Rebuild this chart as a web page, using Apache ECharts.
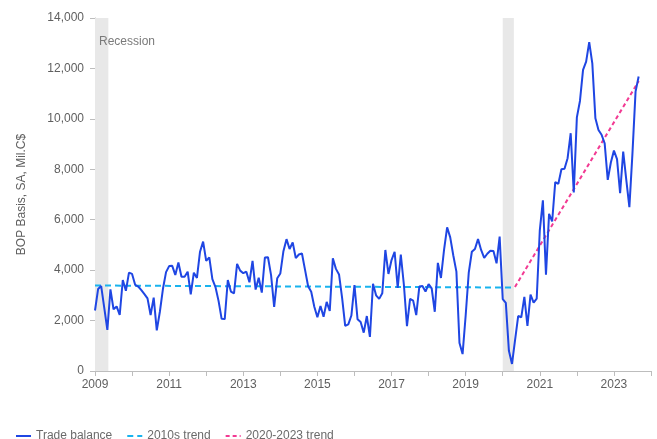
<!DOCTYPE html>
<html>
<head>
<meta charset="utf-8">
<script src="https://cdn.jsdelivr.net/npm/echarts@6/dist/echarts.min.js"></script>
<style>
  html, body { margin: 0; padding: 0; background: #fff; }
  #main { width: 657px; height: 439px; }
</style>
</head>
<body>
<div id="main"></div>
<script>
// monthly trade balance, Mil.C$, starting Jan 2009
var startYear = 2009;
var tb2009 = [2400, 3250, 3370, 2500, 1630, 3240, 2450, 2560, 2220, 3610, 3180, 3900];
var tb2010 = [3850, 3420, 3350, 3210, 3050, 2880, 2220, 2910, 1610, 2350, 3260, 3920];
var tb2011 = [4160, 4170, 3810, 4300, 3740, 3740, 3940, 3040, 3900, 3690, 4730, 5130];
var tb2012 = [4370, 4510, 3640, 3330, 2780, 2070, 2060, 3610, 3150, 3080, 4250, 3980];
var tb2013 = [3880, 3940, 3520, 4370, 3230, 3700, 3110, 4500, 4510, 3800, 2540, 3680];
var tb2014 = [3870, 4750, 5230, 4840, 5100, 4480, 4620, 4660, 4010, 3360, 3140, 2550];
var tb2015 = [2130, 2580, 2150, 2740, 2380, 4470, 4050, 3830, 2900, 1790, 1850, 2200];
var tb2016 = [3410, 2050, 1940, 1520, 2180, 1350, 3460, 3000, 2860, 3080, 4800, 3850];
var tb2017 = [4400, 4730, 3300, 4620, 3420, 1780, 2860, 2790, 2220, 3350, 3370, 3150];
var tb2018 = [3450, 3280, 2350, 4290, 3690, 4800, 5700, 5300, 4580, 3940, 1110, 670];
var tb2019 = [2200, 3900, 4730, 4840, 5230, 4800, 4490, 4650, 4770, 4760, 4270, 5330];
var tb2020 = [2850, 2700, 800, 280, 1230, 2180, 2130, 2940, 1790, 3030, 2710, 2870];
var tb2021 = [5580, 6770, 3820, 6230, 5930, 7490, 7420, 8000, 8020, 8440, 9430, 7080];
var tb2022 = [10060, 10710, 11940, 12270, 13040, 12200, 10020, 9560, 9370, 9030, 7580, 8270];
var tb2023 = [8740, 8400, 7050, 8700, 7580, 6500, 8640, 11080, 11680];

// trend lines: [decimal year, value]
var trend2010s = [[2009.0, 3390], [2020.33, 3310]];
var trend2020s = [[2020.33, 3330], [2023.67, 11500]];

// recession periods (decimal years)
var recessions = [[2009.0, 2009.36], [2020.0, 2020.30]];

var yTicks = [0, 2000, 4000, 6000, 8000, 10000, 12000, 14000];

var allYears = [tb2009, tb2010, tb2011, tb2012, tb2013, tb2014, tb2015, tb2016,
                tb2017, tb2018, tb2019, tb2020, tb2021, tb2022, tb2023];
var tradeData = [];
allYears.forEach(function (arr, i) {
  arr.forEach(function (v, m) {
    tradeData.push([startYear + i + m / 12, v]);
  });
});

var txt = '#5f5f5f';
var axisGrey = '#bdbdbd';
var fontFam = 'Liberation Sans, Arial, sans-serif';

var chart = echarts.init(document.getElementById('main'));
chart.setOption({
  animation: false,
  textStyle: { fontFamily: fontFam },
  grid: { left: 95, right: 6, top: 18, bottom: 68 },
  legend: {
    left: 10,
    top: 425,
    itemWidth: 15,
    itemHeight: 8,
    itemGap: 14,
    itemStyle: { opacity: 0 },
    textStyle: { color: '#6a6a6a', fontSize: 12, fontFamily: fontFam },
    data: ['Trade balance', '2010s trend', '2020-2023 trend']
  },
  xAxis: {
    type: 'value',
    min: 2009,
    max: 2024,
    interval: 1,
    axisLine: { lineStyle: { color: axisGrey } },
    axisTick: { length: 5, lineStyle: { color: axisGrey } },
    splitLine: { show: false },
    axisLabel: {
      color: txt,
      fontSize: 12,
      margin: 8,
      formatter: function (v) { return (v % 2 === 1) ? String(v) : ''; }
    }
  },
  yAxis: {
    type: 'value',
    min: yTicks[0],
    max: yTicks[yTicks.length - 1],
    interval: 2000,
    name: 'BOP Basis, SA, Mil.C$',
    nameLocation: 'middle',
    nameGap: 67,
    nameTextStyle: { color: txt, fontSize: 12 },
    axisLine: { show: true, lineStyle: { color: axisGrey } },
    axisTick: { show: true, length: 5, lineStyle: { color: axisGrey } },
    splitLine: { show: false },
    axisLabel: {
      color: txt,
      fontSize: 12,
      margin: 11,
      formatter: function (v) { return v.toLocaleString('en-US'); }
    }
  },
  series: [
    {
      name: 'recessions',
      type: 'line',
      data: [],
      silent: true,
      markArea: {
        silent: true,
        itemStyle: { color: '#e8e8e8' },
        data: recessions.map(function (r) { return [{ xAxis: r[0] }, { xAxis: r[1] }]; })
      }
    },
    {
      name: 'Trade balance',
      type: 'line',
      data: tradeData,
      symbol: 'none',
      color: '#1f46e3',
      lineStyle: { width: 2, color: '#1f46e3' },
      z: 5
    },
    {
      name: '2010s trend',
      type: 'line',
      data: trend2010s,
      symbol: 'none',
      color: '#19b3ee',
      lineStyle: { width: 2, color: '#19b3ee', type: [6, 4] },
      z: 4
    },
    {
      name: '2020-2023 trend',
      type: 'line',
      data: trend2020s,
      symbol: 'none',
      color: '#f23a93',
      lineStyle: { width: 2, color: '#f23a93', type: [4, 3] },
      z: 4
    }
  ],
  graphic: [{
    type: 'text',
    left: 99,
    top: 36,
    z: 100,
    style: { text: 'Recession', fill: '#7a7a7a', fontSize: 12, fontFamily: fontFam }
  }]
});
</script>
</body>
</html>
